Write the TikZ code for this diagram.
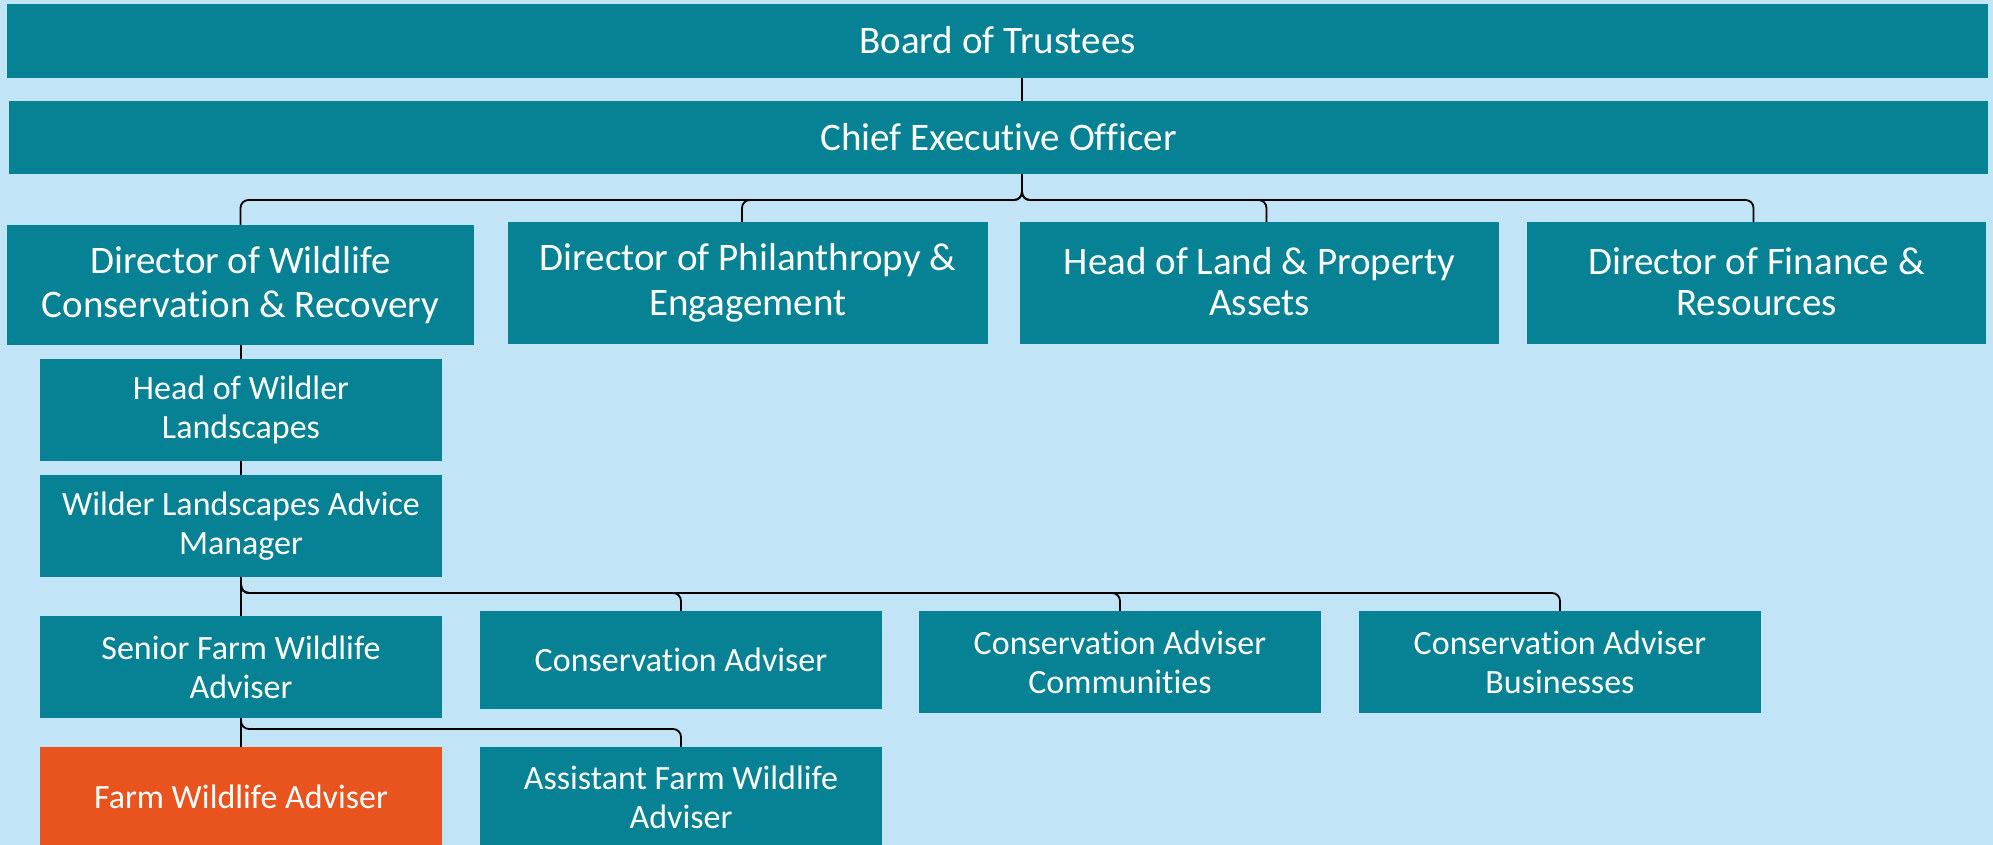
\documentclass[tikz,border=0pt]{standalone}
\usepackage{fontspec}
\setmainfont{Carlito}[Ligatures={NoCommon}]
\definecolor{bgc}{RGB}{193,229,247}
\definecolor{tealc}{RGB}{6,130,148}
\definecolor{orngc}{RGB}{233,83,29}
\begin{document}
\begin{tikzpicture}[x=1pt,y=-1pt,
  box/.style={fill=tealc, text=white, align=center, inner sep=0pt},
  hot/.style={fill=orngc, text=white, align=center, inner sep=0pt},
  big/.style={font=\fontsize{39}{44.5}\selectfont},
  small/.style={font=\fontsize{34}{39}\selectfont},
  conn/.style={draw=black, line width=1.8pt, rounded corners=8pt}]
\fill[bgc] (0,0) rectangle (1993,845);
\useasboundingbox (0,0) rectangle (1993,845);

\node[box,big,minimum width=1981pt,minimum height=74pt] (board) at (997.5,41) {\raisebox{3pt}{Board of Trustees}};
\node[box,big,minimum width=1979pt,minimum height=73pt] (ceo) at (998.5,137.5) {\raisebox{1pt}{Chief Executive Officer}};

\node[box,big,minimum width=467pt,minimum height=120pt] (wild) at (240.5,285) {Director of Wildlife\\Conservation \& Recovery};
\node[box,big,minimum width=480pt,minimum height=122pt] (phil) at (748,283) {Director of Philanthropy \&\\Engagement};
\node[box,big,minimum width=479pt,minimum height=122pt] (land) at (1259.5,283) {Head of Land \& Property\\\raisebox{3pt}{Assets}};
\node[box,big,minimum width=459pt,minimum height=122pt] (fin) at (1756.5,283) {Director of Finance \&\\\raisebox{3pt}{Resources}};

\node[box,small,minimum width=402pt,minimum height=102pt] (head) at (241,410) {Head of Wildler\\Landscapes};
\node[box,small,minimum width=402pt,minimum height=102pt] (mgr) at (241,526) {Wilder Landscapes Advice\\Manager};

\node[box,small,minimum width=402pt,minimum height=102pt] (sfwa) at (241,667) {Senior Farm Wildlife\\Adviser};
\node[box,small,minimum width=402pt,minimum height=98pt] (ca) at (681,660) {Conservation Adviser};
\node[box,small,minimum width=402pt,minimum height=102pt] (cac) at (1120,662) {Conservation Adviser\\Communities};
\node[box,small,minimum width=402pt,minimum height=102pt] (cab) at (1560,662) {Conservation Adviser\\Businesses};

\node[hot,small,minimum width=402pt,minimum height=100pt] (fwa) at (241,797) {Farm Wildlife Adviser};
\node[box,small,minimum width=402pt,minimum height=100pt] (afwa) at (681,797) {Assistant Farm Wildlife\\Adviser};

\coordinate (ctop) at (1022,0);
\coordinate (busA) at (0,200);
\coordinate (busB) at (0,593);
\coordinate (busC) at (0,729);

\draw[conn] (board.south -| ctop) -- (ceo.north -| ctop);
\draw[conn] (ceo.south -| ctop) -- (ctop |- busA) -| (wild.north);
\draw[conn] (ceo.south -| ctop) -- (ctop |- busA) -| ([xshift=-6pt]phil.north);
\draw[conn] (ceo.south -| ctop) -- (ctop |- busA) -| ([xshift=7pt]land.north);
\draw[conn] (ceo.south -| ctop) -- (ctop |- busA) -| ([xshift=-3pt]fin.north);

\draw[conn] (head.north |- wild.south) -- (head.north);
\draw[conn] (head.south) -- (mgr.north);
\draw[conn] (mgr.south) -- (sfwa.north);
\draw[conn] (mgr.south) -- (mgr.south |- busB) -| (ca.north);
\draw[conn] (mgr.south) -- (mgr.south |- busB) -| (cac.north);
\draw[conn] (mgr.south) -- (mgr.south |- busB) -| (cab.north);

\draw[conn] (sfwa.south) -- (fwa.north);
\draw[conn] (sfwa.south) -- (sfwa.south |- busC) -| (afwa.north);
\end{tikzpicture}
\end{document}
